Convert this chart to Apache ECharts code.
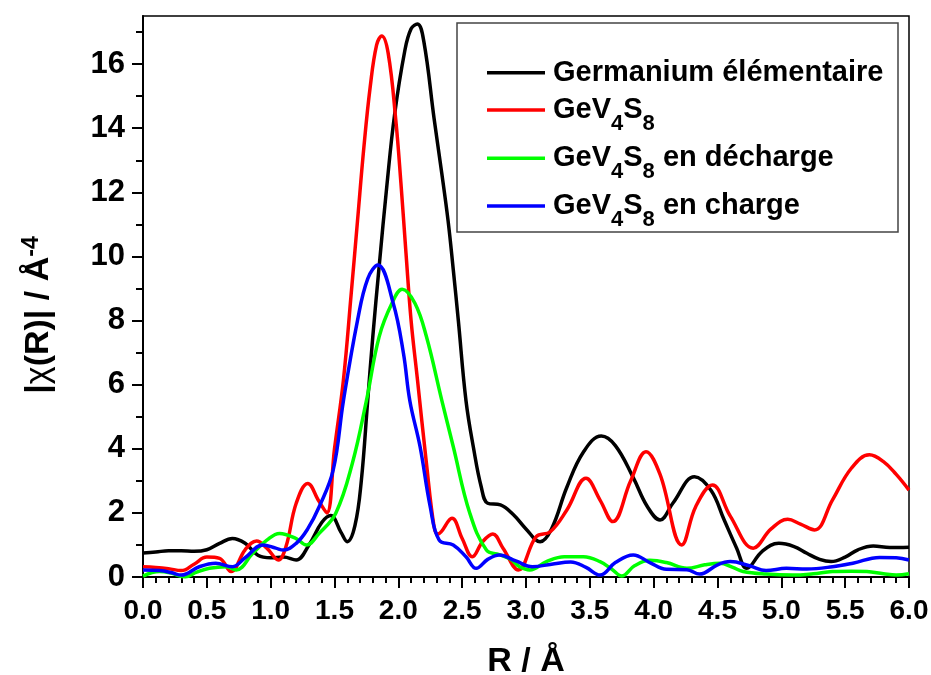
<!DOCTYPE html>
<html>
<head>
<meta charset="utf-8">
<script src="https://cdn.jsdelivr.net/npm/echarts@6/dist/echarts.min.js"></script>
<style>
html,body{margin:0;padding:0;background:#fff;}
#c{width:931px;height:675px;}
</style>
</head>
<body>
<div id="c"></div>
<script>
// ---- data (R in Å, |chi(R)|) ----
const seriesNames = ['Germanium élémentaire', 'GeV4S8', 'GeV4S8 en décharge', 'GeV4S8 en charge'];

const germanium = [[0,0.75],[0.1,0.78],[0.2,0.82],[0.3,0.82],[0.4,0.8],[0.5,0.85],[0.6,1.05],[0.7,1.2],[0.8,1.05],[0.9,0.68],[1.0,0.6],[1.1,0.62],[1.2,0.53],[1.3,1.0],[1.4,1.7],[1.47,1.92],[1.55,1.4],[1.6,1.1],[1.66,1.6],[1.71,3.0],[1.76,5.5],[1.8,7.5],[1.85,9.7],[1.91,12.2],[1.97,14.4],[2.05,16.4],[2.1,17.1],[2.15,17.25],[2.2,16.7],[2.28,14.3],[2.34,12.6],[2.39,11.1],[2.43,9.6],[2.47,8.0],[2.53,5.5],[2.59,4.0],[2.65,2.8],[2.7,2.3],[2.8,2.25],[2.9,1.95],[3.0,1.5],[3.11,1.1],[3.2,1.5],[3.32,2.8],[3.45,3.9],[3.59,4.4],[3.7,4.1],[3.84,3.1],[3.95,2.2],[4.05,1.78],[4.15,2.3],[4.32,3.13],[4.45,2.7],[4.55,1.8],[4.65,0.9],[4.73,0.27],[4.85,0.8],[4.98,1.05],[5.1,0.95],[5.2,0.74],[5.3,0.55],[5.39,0.48],[5.5,0.62],[5.6,0.85],[5.72,0.97],[5.85,0.92],[6.0,0.93]];

const gev4s8 = [[0,0.32],[0.1,0.3],[0.2,0.26],[0.3,0.2],[0.4,0.4],[0.5,0.62],[0.6,0.58],[0.69,0.17],[0.8,0.85],[0.89,1.12],[0.97,0.9],[1.06,0.53],[1.12,0.95],[1.2,2.3],[1.29,2.92],[1.38,2.35],[1.44,2.0],[1.5,4.0],[1.57,6.15],[1.63,8.8],[1.68,11.1],[1.73,13.4],[1.78,15.3],[1.83,16.6],[1.87,16.88],[1.92,16.35],[1.98,14.26],[2.02,12.3],[2.06,10.1],[2.1,8.0],[2.15,6.15],[2.22,3.55],[2.28,1.57],[2.31,1.34],[2.42,1.83],[2.5,1.2],[2.58,0.63],[2.66,1.1],[2.74,1.34],[2.82,0.9],[2.94,0.22],[3.08,1.26],[3.19,1.41],[3.32,2.09],[3.47,3.08],[3.58,2.4],[3.68,1.73],[3.82,3.0],[3.94,3.91],[4.05,3.2],[4.22,1.0],[4.33,2.2],[4.46,2.87],[4.6,1.9],[4.78,0.9],[4.92,1.5],[5.05,1.8],[5.15,1.65],[5.26,1.47],[5.4,2.4],[5.55,3.4],[5.69,3.81],[5.8,3.6],[5.9,3.2],[6.0,2.71]];

const gevDecharge = [[0,0.03],[0.13,0.17],[0.22,0.12],[0.33,0.0],[0.42,0.15],[0.52,0.27],[0.65,0.32],[0.73,0.22],[0.86,0.74],[0.97,1.15],[1.07,1.36],[1.2,1.2],[1.28,1.0],[1.38,1.36],[1.51,1.99],[1.64,3.55],[1.75,5.5],[1.85,7.5],[1.95,8.54],[2.03,8.98],[2.13,8.54],[2.22,7.5],[2.34,5.52],[2.43,4.07],[2.56,1.99],[2.69,0.84],[2.79,0.7],[2.88,0.55],[2.95,0.32],[3.03,0.22],[3.16,0.48],[3.3,0.63],[3.45,0.63],[3.58,0.48],[3.67,0.25],[3.75,0.03],[3.85,0.35],[3.97,0.52],[4.1,0.45],[4.26,0.27],[4.4,0.38],[4.52,0.43],[4.62,0.3],[4.7,0.17],[4.88,0.09],[5.09,0.06],[5.25,0.1],[5.4,0.17],[5.55,0.18],[5.67,0.17],[5.8,0.1],[5.9,0.06],[6.0,0.1]];

const gevCharge = [[0,0.22],[0.13,0.2],[0.22,0.14],[0.3,0.06],[0.44,0.32],[0.57,0.43],[0.7,0.32],[0.8,0.6],[0.94,1.0],[1.04,0.9],[1.1,0.84],[1.2,1.05],[1.29,1.5],[1.38,2.19],[1.49,3.34],[1.57,5.5],[1.68,8.0],[1.76,9.3],[1.84,9.73],[1.96,8.54],[2.04,6.98],[2.09,5.5],[2.17,4.07],[2.25,2.19],[2.32,1.15],[2.43,1.0],[2.53,0.63],[2.61,0.27],[2.7,0.55],[2.79,0.69],[2.92,0.5],[3.05,0.32],[3.2,0.4],[3.35,0.47],[3.47,0.3],[3.58,0.06],[3.7,0.45],[3.84,0.69],[3.97,0.45],[4.1,0.24],[4.26,0.23],[4.36,0.09],[4.5,0.38],[4.6,0.48],[4.75,0.35],[4.88,0.2],[5.04,0.27],[5.2,0.25],[5.4,0.32],[5.56,0.43],[5.77,0.61],[5.9,0.6],[6.0,0.53]];

const yMajorTicks = [0,2,4,6,8,10,12,14,16];
const yMinorTicks = [1,3,5,7,9,11,13,15,17];

const colors = ['#000000', '#ff0000', '#00ff00', '#0000ff'];
const FONT = '"Liberation Sans", Arial, Helvetica, sans-serif';

const chart = echarts.init(document.getElementById('c'), null, {renderer: 'canvas'});

const legendRich = {
  g: {fontSize: 29, fontWeight: 'bold', fontFamily: FONT, fill: '#000', lineHeight: 50, verticalAlign: 'middle'},
  m: {fontSize: 29, fontWeight: 'bold', fontFamily: FONT, fill: '#000', lineHeight: 50, verticalAlign: 'middle'},
  s: {fontSize: 22, fontWeight: 'bold', fontFamily: FONT, fill: '#000', lineHeight: 25, verticalAlign: 'bottom'}
};
function legendText(name) {
  if (name === seriesNames[0]) return '{g|' + name + '}';
  const rest = name.replace('GeV4S8', '');
  let s = '{m|GeV}{s|4}{m|S}{s|8}';
  if (rest) s += '{m|' + rest + '}';
  return s;
}
const legendRowY = [72.7, 110, 158.3, 206];
const legendGraphics = [
  {type: 'rect', z: 100, shape: {x: 457, y: 23, width: 441, height: 209},
    style: {fill: 'transparent', stroke: '#444', lineWidth: 1.5}}
];
seriesNames.forEach((n, i) => {
  legendGraphics.push({type: 'line', z: 100, shape: {x1: 487, y1: legendRowY[i], x2: 545, y2: legendRowY[i]},
    style: {stroke: colors[i], lineWidth: 3.5}});
  legendGraphics.push({type: 'text', z: 100, x: 553, y: legendRowY[i],
    style: {text: legendText(n), align: 'left', verticalAlign: 'middle', rich: legendRich}});
});

const dataSets = [germanium, gev4s8, gevDecharge, gevCharge];

const option = {
  backgroundColor: '#fff',
  animation: false,
  grid: {left: 143, right: 22, top: 16, bottom: 98, show: true, borderColor: '#000', borderWidth: 1.5,
    backgroundColor: 'transparent', containLabel: false, outerBoundsMode: 'none'},
  xAxis: [{
    type: 'value', min: 0, max: 6, interval: 0.5,
    axisLine: {show: true, onZero: false, lineStyle: {color: '#000', width: 2}},
    axisTick: {show: true, inside: false, length: 11, lineStyle: {color: '#000', width: 2}},
    minorTick: {show: true, splitNumber: 5, length: 6, lineStyle: {color: '#000', width: 2}},
    splitLine: {show: false}, minorSplitLine: {show: false},
    axisLabel: {margin: 20, fontSize: 28, fontWeight: 'bold', fontFamily: FONT, color: '#000',
      formatter: v => v.toFixed(1)},
    name: 'R / Å', nameLocation: 'middle', nameGap: 68,
    nameTextStyle: {fontSize: 34, fontWeight: 'bold', fontFamily: FONT, color: '#000'}
  }],
  yAxis: [{
    type: 'value', min: 0, max: 17.5, interval: 2,
    axisLine: {show: true, onZero: false, lineStyle: {color: '#000', width: 2}},
    axisTick: {show: true, inside: false, length: 11, customValues: yMajorTicks, lineStyle: {color: '#000', width: 2}},
    splitLine: {show: false},
    axisLabel: {margin: 18, fontSize: 31, fontWeight: 'bold', fontFamily: FONT, color: '#000',
      customValues: yMajorTicks}
  }, {
    type: 'value', min: 0, max: 17.5, interval: 1, position: 'left',
    axisLine: {show: false},
    axisTick: {show: true, inside: false, length: 7, customValues: yMinorTicks, lineStyle: {color: '#000', width: 2}},
    splitLine: {show: false},
    axisLabel: {show: false}
  }],
  graphic: legendGraphics.concat([
    {type: 'text', z: 100, x: 38, y: 315, rotation: Math.PI / 2,
      style: {
        text: '{a||}{c|χ}{a|(R)| / Å}{b|-4}',
        align: 'center', verticalAlign: 'middle',
        rich: {
          a: {fontSize: 34, fontWeight: 'bold', fontFamily: FONT, fill: '#000', lineHeight: 36, verticalAlign: 'bottom'},
          c: {fontSize: 34, fontWeight: 'normal', fontFamily: FONT, fill: '#000', lineHeight: 36, verticalAlign: 'bottom'},
          b: {fontSize: 23, fontWeight: 'bold', fontFamily: FONT, fill: '#000', lineHeight: 23, padding: [0, 0, 22, 0], verticalAlign: 'top'}
        }
      }}
  ]),
  series: dataSets.map((d, i) => ({
    name: seriesNames[i], type: 'line', data: d,
    xAxisIndex: 0, yAxisIndex: 0,
    showSymbol: false, symbol: 'none', smooth: 0.4,
    lineStyle: {color: colors[i], width: 3.5},
    itemStyle: {color: colors[i]},
    z: 2 + i
  }))
};
chart.setOption(option);
</script>
</body>
</html>
